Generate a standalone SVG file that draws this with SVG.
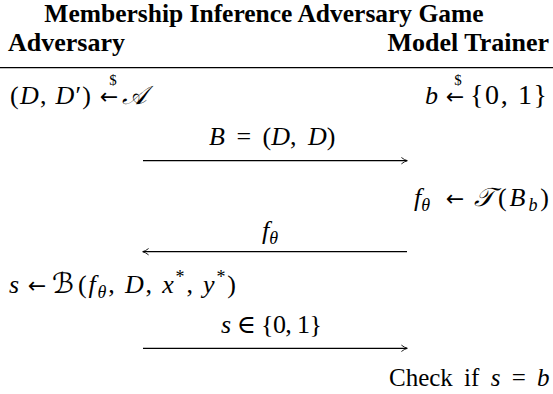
<svg xmlns="http://www.w3.org/2000/svg" width="553" height="394" viewBox="0 0 553 394">
<style>
text{font-family:"Liberation Serif","DejaVu Serif",serif;fill:#000;font-size:26px}
.h{font-size:25.5px;font-weight:bold}
.hh{font-size:26px;font-weight:bold}
.tx{font-size:25px}
.i{font-style:italic}
.sb{font-size:18px;font-style:italic}
.sp{font-size:18px}
.d{font-size:15px}
.br{font-size:28px}
.ar{font-family:"DejaVu Sans",sans-serif;font-size:22px}
.sy{font-family:"DejaVu Serif",serif}
.c{font-family:"DejaVu Sans","Noto Sans",sans-serif;font-style:italic}
.cb{font-family:"DejaVu Sans","Noto Sans",sans-serif;font-style:italic;font-size:28px}
.ln{stroke:#000;stroke-width:1.2;fill:none}
</style>
<defs>
<marker id="ah" viewBox="0 0 10 10" refX="9" refY="5" markerWidth="8" markerHeight="8" markerUnits="userSpaceOnUse" orient="auto">
<path d="M2,1 Q6,4.2 9.5,5 Q6,5.8 2,9" fill="none" stroke="#000" stroke-width="1.1"/>
</marker>
</defs>
<g id="title"><text class="h" x="264" y="22" text-anchor="middle">Membership Inference Adversary Game</text></g>
<g id="adversary-header"><text class="hh" x="8" y="51">Adversary</text></g>
<g id="trainer-header"><text class="hh" x="549" y="51" text-anchor="end">Model Trainer</text></g>
<line class="ln" x1="0" y1="67.7" x2="553" y2="67.7"/>
<g id="adv-sample">
<text x="10" y="104" textLength="81" lengthAdjust="spacing">(<tspan class="i">D</tspan>, <tspan class="i">D</tspan>′)</text>
<text class="ar" x="109" y="104" text-anchor="middle">←</text>
<text class="d" x="113" y="85" text-anchor="middle">$</text>
<text class="c" x="122" y="104">𝒜</text>
</g>
<g id="trainer-sample">
<text class="i" x="425" y="104">b</text>
<text class="ar" x="455" y="104" text-anchor="middle">←</text>
<text class="d" x="458" y="85" text-anchor="middle">$</text>
<text class="br" x="470" y="104" textLength="77" lengthAdjust="spacing">{0, 1}</text>
</g>
<g id="trainer-train">
<text x="414" y="206"><tspan class="i">f</tspan><tspan class="sb" dy="5">θ</tspan></text>
<text class="ar" x="455" y="206" text-anchor="middle">←</text>
<text class="c" x="474" y="206">𝒯</text>
<text x="498" y="206" textLength="51" lengthAdjust="spacing">(<tspan class="i">B</tspan><tspan class="sb" dy="5">b</tspan><tspan dy="-5">)</tspan></text>
</g>
<g id="adv-guess">
<text class="i" x="9" y="293">s</text>
<text class="ar" x="37" y="293" text-anchor="middle">←</text>
<text class="cb" x="52" y="293">ℬ</text>
<text x="78" y="293" textLength="158" lengthAdjust="spacing">(<tspan class="i">f</tspan><tspan class="sb" dy="5">θ</tspan><tspan dy="-5">, </tspan><tspan class="i">D</tspan>, <tspan class="i">x</tspan><tspan class="sp" dy="-10">*</tspan><tspan dy="10">, </tspan><tspan class="i">y</tspan><tspan class="sp" dy="-10">*</tspan><tspan dy="10">)</tspan></text>
</g>
<g id="trainer-check">
<text class="tx" x="389" y="386" word-spacing="5">Check if <tspan class="i">s</tspan> = <tspan class="i">b</tspan></text>
</g>
<g id="connectors">
<line class="ln" x1="143" y1="160.7" x2="407" y2="160.7" marker-end="url(#ah)"/>
<text x="209" y="145" word-spacing="5"><tspan class="i">B</tspan> = (<tspan class="i">D</tspan>, <tspan class="i">D</tspan>)</text>
<line class="ln" x1="407" y1="251.7" x2="143" y2="251.7" marker-end="url(#ah)"/>
<text x="262" y="239"><tspan class="i">f</tspan><tspan class="sb" dy="5">θ</tspan></text>
<line class="ln" x1="143" y1="348.3" x2="407" y2="348.3" marker-end="url(#ah)"/>
<text x="221" y="333" textLength="101" lengthAdjust="spacing"><tspan class="i">s</tspan> <tspan class="sy">∈</tspan> {0, 1}</text>
</g>
</svg>
